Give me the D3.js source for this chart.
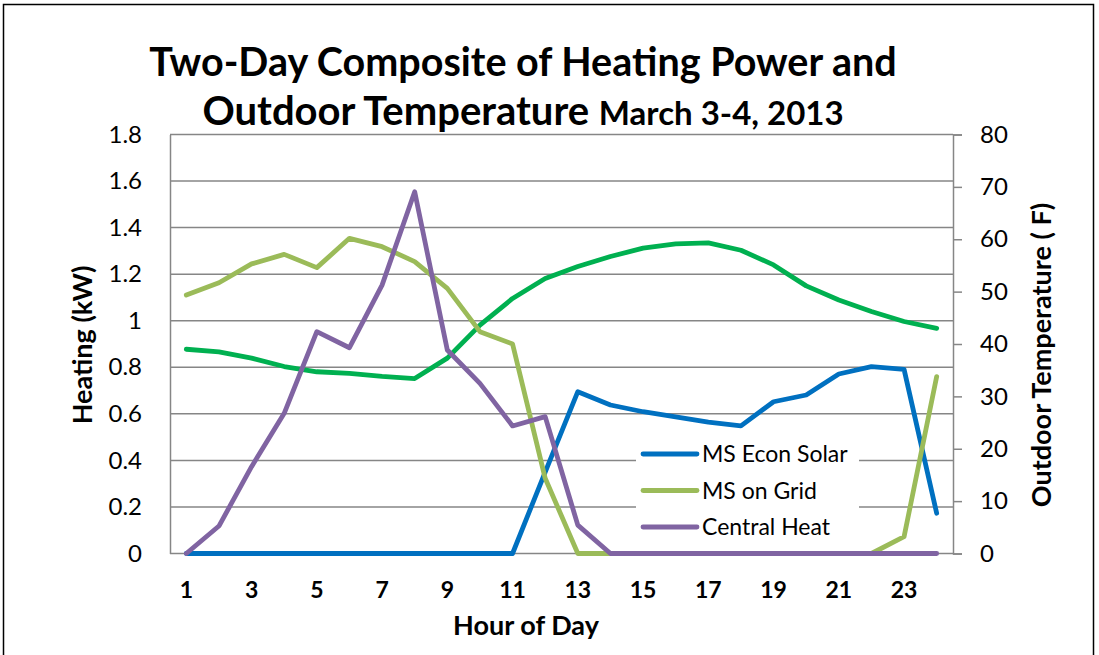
<!DOCTYPE html>
<html>
<head>
<meta charset="utf-8">
<script src="https://cdn.jsdelivr.net/npm/d3@7"></script>
<style>
  body { margin: 0; background: #fff; }
  text { font-family: Lato, "Open Sans", sans-serif; }
</style>
</head>
<body>
<div id="chart"></div>
<script>
// hours on the x axis
const hours = d3.range(1, 25);
const tickHours = [1, 3, 5, 7, 9, 11, 13, 15, 17, 19, 21, 23];

// heating power (kW) - left axis
const msEconSolar = [0, 0, 0, 0, 0, 0, 0, 0, 0, 0, 0, 0.35, 0.695, 0.638, 0.609, 0.587, 0.564, 0.548, 0.652, 0.681, 0.771, 0.803, 0.791, 0.173];
const msOnGrid = [1.11, 1.163, 1.244, 1.285, 1.228, 1.354, 1.318, 1.254, 1.139, 0.953, 0.90, 0.323, 0, 0, 0, 0, 0, 0, 0, 0, 0, 0, 0.072, 0.76];
const centralHeat = [0, 0.118, 0.373, 0.602, 0.953, 0.884, 1.153, 1.554, 0.874, 0.731, 0.548, 0.588, 0.122, 0, 0, 0, 0, 0, 0, 0, 0, 0, 0, 0];

// outdoor temperature (F) - right axis
const outdoorTemp = [39.0, 38.5, 37.3, 35.7, 34.7, 34.4, 33.8, 33.4, 37.3, 43.6, 48.7, 52.5, 54.8, 56.7, 58.3, 59.1, 59.3, 57.9, 55.1, 51.1, 48.4, 46.2, 44.3, 43.0];

const leftTicks = [0, 0.2, 0.4, 0.6, 0.8, 1, 1.2, 1.4, 1.6, 1.8];
const rightTicks = [0, 10, 20, 30, 40, 50, 60, 70, 80];

const W = 1099, H = 655;
const margin = { top: 134.5, left: 170, right: 146, bottom: 101.5 };
const width = W - margin.left - margin.right;
const height = H - margin.top - margin.bottom;

const svg = d3.select("#chart").append("svg")
    .attr("width", W)
    .attr("height", H);

// outer chart border
svg.append("rect")
    .attr("x", 3.5).attr("y", 4.5)
    .attr("width", 1090).attr("height", 660)
    .attr("fill", "none")
    .attr("stroke", "#000")
    .attr("stroke-width", 1.5);

const g = svg.append("g")
    .attr("transform", `translate(${margin.left},${margin.top})`);

const x = d3.scaleBand().domain(hours).range([0, width]);
const y = d3.scaleLinear().domain([0, 1.8]).range([height, 0]);
const y2 = d3.scaleLinear().domain([0, 80]).range([height, 0]);
const xc = h => x(h) + x.bandwidth() / 2;

// gridlines
g.selectAll(".grid")
    .data(leftTicks)
    .enter().append("line")
    .attr("class", "grid")
    .attr("x1", 0).attr("x2", width)
    .attr("y1", d => y(d)).attr("y2", d => y(d))
    .attr("stroke", "#868686")
    .attr("stroke-width", 1.5);

// left axis (no tick marks)
const yAxis = g.append("g")
    .call(d3.axisLeft(y).tickValues(leftTicks).tickSize(0).tickPadding(28).tickFormat(d3.format("")));
yAxis.select(".domain").attr("stroke", "#868686").attr("stroke-width", 1.5);
yAxis.selectAll("text").attr("font-size", 24).attr("fill", "#000");

// right axis
const yAxis2 = g.append("g")
    .attr("transform", `translate(${width},0)`)
    .call(d3.axisRight(y2).tickValues(rightTicks).tickSizeInner(9).tickSizeOuter(9).tickPadding(18));
yAxis2.select(".domain").attr("stroke", "#868686").attr("stroke-width", 1.5);
yAxis2.selectAll("line").attr("stroke", "#868686").attr("stroke-width", 1.5);
yAxis2.selectAll("text").attr("font-size", 24).attr("fill", "#000");

// x axis labels
const xAxis = g.append("g")
    .attr("transform", `translate(0,${height})`)
    .call(d3.axisBottom(x).tickValues(tickHours).tickSize(0).tickPadding(28));
xAxis.select(".domain").remove();
xAxis.selectAll("text").attr("font-size", 23).attr("font-weight", "bold").attr("fill", "#000");

// legend box (drawn under the lines, hides gridlines)
const legendItems = [
    { name: "MS Econ Solar", color: "#0070C0" },
    { name: "MS on Grid", color: "#9BBB59" },
    { name: "Central Heat", color: "#8064A2" }
];
const legend = svg.append("g").attr("transform", "translate(636,437)");
legend.append("rect")
    .attr("width", 223).attr("height", 112)
    .attr("fill", "#fff");

// series lines
const line = d3.line()
    .x((d, i) => xc(hours[i]))
    .y(d => y(d));
const line2 = d3.line()
    .x((d, i) => xc(hours[i]))
    .y(d => y2(d));

const series = [
    { data: outdoorTemp, color: "#00B050", gen: line2 },
    { data: msEconSolar, color: "#0070C0", gen: line },
    { data: msOnGrid, color: "#9BBB59", gen: line },
    { data: centralHeat, color: "#8064A2", gen: line }
];
g.selectAll(".series")
    .data(series)
    .enter().append("path")
    .attr("class", "series")
    .attr("d", d => d.gen(d.data))
    .attr("fill", "none")
    .attr("stroke", d => d.color)
    .attr("stroke-width", 4.8)
    .attr("stroke-linejoin", "round")
    .attr("stroke-linecap", "round");

// legend entries
legendItems.forEach((d, i) => {
    const row = legend.append("g").attr("transform", `translate(0,${17 + i * 36.5})`);
    row.append("line")
        .attr("x1", 7).attr("x2", 61)
        .attr("stroke", d.color)
        .attr("stroke-width", 4.8)
        .attr("stroke-linecap", "round");
    row.append("text")
        .attr("x", 66).attr("y", 8)
        .attr("font-size", 23)
        .attr("fill", "#000")
        .text(d.name);
});

// title
svg.append("text")
    .attr("x", 523).attr("y", 76)
    .attr("text-anchor", "middle")
    .attr("font-size", 39.5)
    .attr("font-weight", "bold")
    .text("Two-Day Composite of Heating Power and");
const t2 = svg.append("text")
    .attr("x", 523).attr("y", 125)
    .attr("text-anchor", "middle")
    .attr("font-weight", "bold");
t2.append("tspan").attr("font-size", 40).text("Outdoor Temperature ");
t2.append("tspan").attr("font-size", 33).text("March 3-4, 2013");

// axis titles
svg.append("text")
    .attr("transform", "translate(92,345) rotate(-90)")
    .attr("text-anchor", "middle")
    .attr("font-size", 27)
    .attr("font-weight", "bold")
    .text("Heating (kW)");
svg.append("text")
    .attr("transform", "translate(1051,355) rotate(-90)")
    .attr("text-anchor", "middle")
    .attr("font-size", 27)
    .attr("font-weight", "bold")
    .text("Outdoor Temperature ( F)");
svg.append("text")
    .attr("x", 526).attr("y", 635)
    .attr("text-anchor", "middle")
    .attr("font-size", 27)
    .attr("font-weight", "bold")
    .text("Hour of Day");
</script>
</body>
</html>
